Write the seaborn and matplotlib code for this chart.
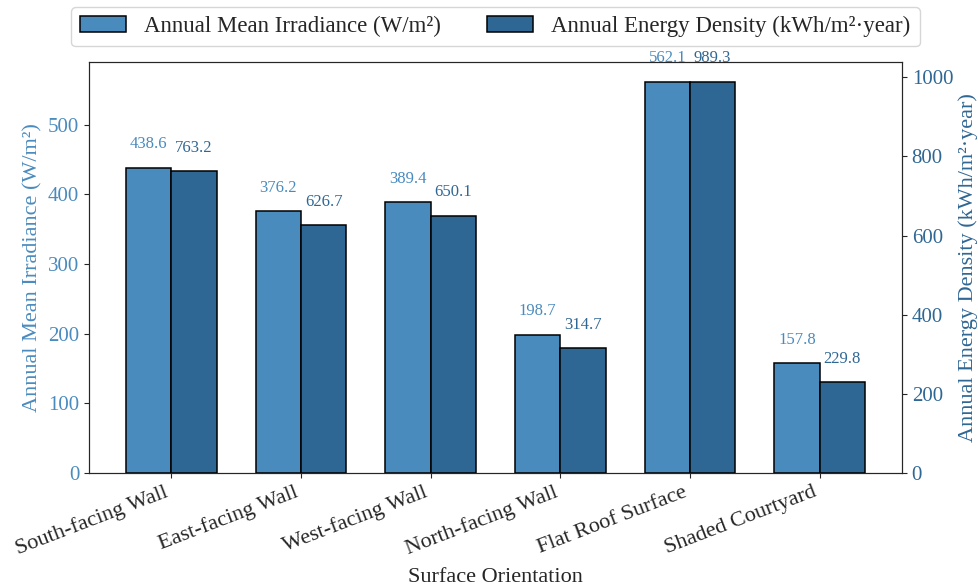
import numpy as np
import pandas as pd
import matplotlib
matplotlib.use("Agg")
import matplotlib.pyplot as plt
from matplotlib.patches import Patch
import seaborn as sns

# Surface categories and the two annual metrics
surfaces = ["South-facing Wall", "East-facing Wall", "West-facing Wall",
            "North-facing Wall", "Flat Roof Surface", "Shaded Courtyard"]
irradiance = [438.6, 376.2, 389.4, 198.7, 562.1, 157.8]      # W/m²
energy_density = [763.2, 626.7, 650.1, 314.7, 989.3, 229.8]  # kWh/m²·year

irr_label = "Annual Mean Irradiance (W/m²)"
en_label = "Annual Energy Density (kWh/m²·year)"
series_order = [irr_label, en_label]

irr_color = "#4a8bbe"
en_color = "#2f6794"
palette = {irr_label: irr_color, en_label: en_color}

df_irr = pd.DataFrame({"Surface": surfaces, "Metric": irr_label, "Value": irradiance})
df_en = pd.DataFrame({"Surface": surfaces, "Metric": en_label, "Value": energy_density})

sns.set_style("ticks")
plt.rcParams["font.family"] = ["Liberation Serif", "DejaVu Serif"]

fig = plt.figure(figsize=(9.79, 5.85), dpi=100)
ax1 = fig.add_axes([0.0909, 0.1915, 0.8304, 0.7025])
ax2 = ax1.twinx()

# Each metric on its own y-axis, dodged side by side within a surface
common = dict(x="Surface", y="Value", hue="Metric", order=surfaces,
              hue_order=series_order, palette=palette, width=0.7, dodge=True,
              errorbar=None, edgecolor="black", linewidth=1.1,
              saturation=1, legend=False)
sns.barplot(data=df_irr, ax=ax1, **common)
sns.barplot(data=df_en, ax=ax2, **common)

# Same horizontal padding as matplotlib's default bar margins
n = len(surfaces)
pad = 0.05 * (n - 1 + 0.7)
ax1.set_xlim(-0.35 - pad, n - 1 + 0.35 + pad)
ax1.set_ylim(0, max(irradiance) * 1.05)
ax2.set_ylim(0, max(energy_density) * 1.05)

# Value labels above each bar
for ax, color in ((ax1, irr_color), (ax2, en_color)):
    for cont in ax.containers:
        if len(cont) == 0:
            continue
        ax.bar_label(cont, fmt="%.1f", padding=11, color=color, fontsize=12)

ax1.set_xlabel("Surface Orientation", fontsize=16, labelpad=6)
ax1.set_ylabel(irr_label, fontsize=16, color=irr_color)
ax2.set_ylabel(en_label, fontsize=16, color=en_color)

ax1.tick_params(axis="y", labelsize=15, labelcolor=irr_color)
ax2.tick_params(axis="y", labelsize=15, labelcolor=en_color)
ax1.tick_params(axis="x", labelsize=16)
plt.setp(ax1.get_xticklabels(), rotation=21, ha="right")

handles = [Patch(facecolor=irr_color, edgecolor="black", linewidth=1.1, label=irr_label),
           Patch(facecolor=en_color, edgecolor="black", linewidth=1.1, label=en_label)]
leg = ax2.legend(handles=handles, loc="upper center", bbox_to_anchor=(0.5, 1.134),
                 borderaxespad=0, ncol=2, fontsize=16.5, frameon=True)
leg.get_frame().set_edgecolor("#cccccc")

fig.savefig("out.png", dpi=100)
